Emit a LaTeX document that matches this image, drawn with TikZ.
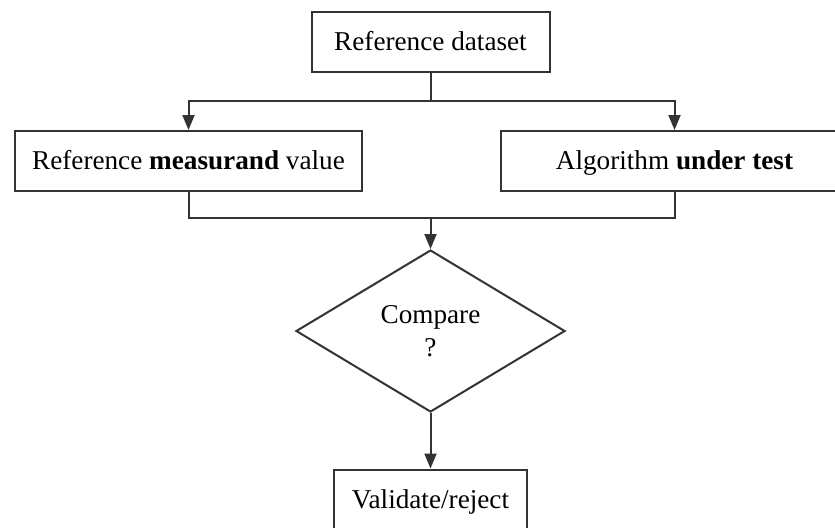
\documentclass[tikz,border=0pt]{standalone}
\usepackage{fontspec}
\setmainfont{Liberation Serif}
\usetikzlibrary{shapes.geometric,arrows.meta}
\begin{document}
\begin{tikzpicture}
	[x=0.5pt,y=-0.5pt,
	 box/.style={rectangle,draw=black!80,line width=1pt,minimum height=30pt,inner sep=0pt,text height=11pt,text depth=2.5pt,font=\fontsize{13.6}{16.5}\selectfont},
	 decision/.style={diamond,draw=black!80,line width=1pt,aspect=1.66,minimum width=134.5pt,minimum height=81pt,inner sep=0pt,align=center,font=\fontsize{13.6}{16.5}\selectfont},
	 link/.style={draw=black!80,line width=1pt},
	 >={Triangle[length=7.5pt,width=6pt]}]
	\clip (0,0) rectangle (835,527);
	\node[box,minimum width=119pt,name=dataset] at (430.5,42) {Reference dataset};
	\node[box,minimum width=173.5pt,name=refval] at (188.5,161) {Reference \textbf{measurand} value};
	\node[box,minimum width=174pt,name=algo] at (674.5,161) {Algorithm \textbf{under test}};
	\node[decision,name=compare] at (430.5,331) {Compare\\?};
	\node[box,minimum width=96.5pt,name=verdict] at (430.5,499.5) {Validate/reject};
	\coordinate (split) at (430.5,101);
	\coordinate (merge) at (430.5,218);
	\draw[link](dataset)--(split);
	\draw[link,->](split)-|(refval);
	\draw[link,->](split)-|(algo);
	\draw[link](refval)|-(merge);
	\draw[link](algo)|-(merge);
	\draw[link,->](merge)--(compare);
	\draw[link,->](compare)--(verdict);
\end{tikzpicture}
\end{document}
